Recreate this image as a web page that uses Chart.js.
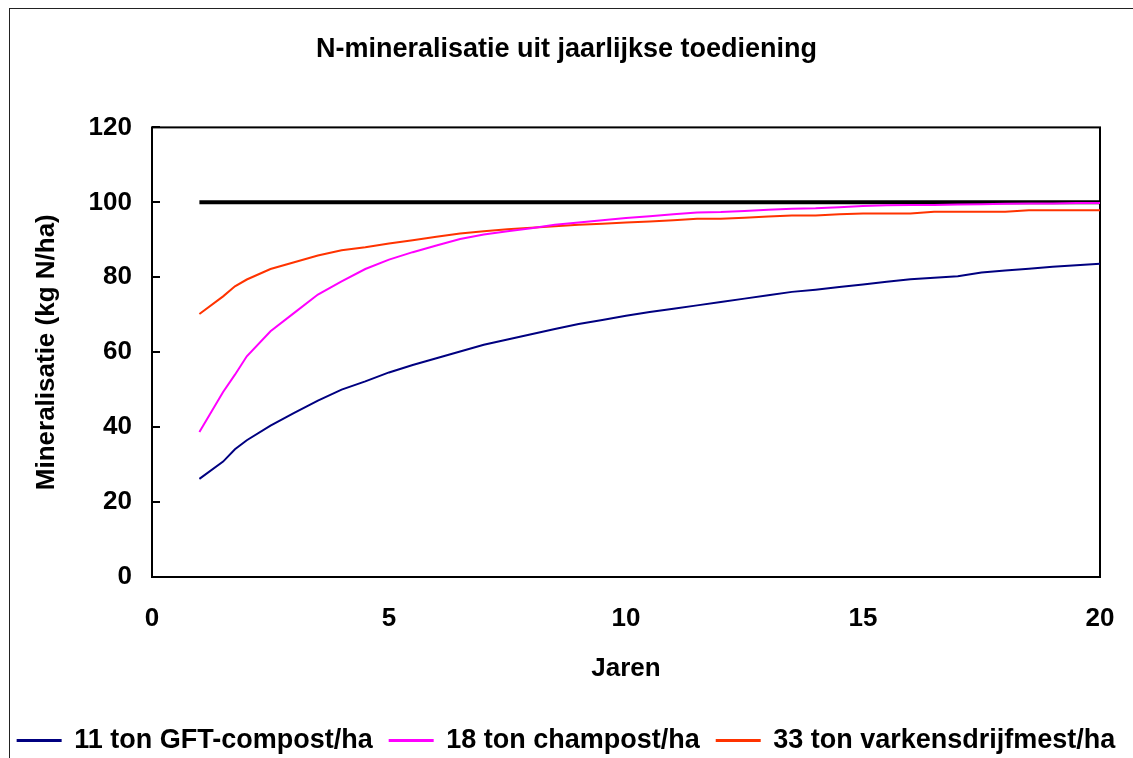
<!DOCTYPE html>
<html>
<head>
<meta charset="utf-8">
<script src="https://cdn.jsdelivr.net/npm/chart.js@4.4.1/dist/chart.umd.min.js"></script>
<style>
    html, body { margin: 0; padding: 0; background: #fff; overflow: hidden; }
    #wrap { width: 1133px; height: 758px; overflow: hidden; }
</style>
</head>
<body>
<div id="wrap"><canvas id="grafiek" width="1133" height="764"></canvas></div>
<script>
// jaren (x-as) en de drie reeksen
const jaren = [1, 1.5, 1.75, 2, 2.5, 3, 3.5, 4, 4.5, 5, 5.5, 6, 6.5, 7, 7.5, 8, 8.5, 9, 9.5, 10,
               10.5, 11, 11.5, 12, 12.5, 13, 13.5, 14, 14.5, 15, 15.5, 16, 16.5, 17, 17.5, 18, 18.5, 19, 19.5, 20];

const gftCompost = [26.2, 30.8, 34.1, 36.5, 40.4, 43.8, 47.1, 50.0, 52.2, 54.6, 56.6, 58.4, 60.2, 62.0, 63.4, 64.8, 66.2, 67.5, 68.6, 69.7,
                    70.7, 71.6, 72.5, 73.4, 74.3, 75.2, 76.1, 76.7, 77.4, 78.1, 78.8, 79.5, 79.9, 80.3, 81.3, 81.8, 82.3, 82.8, 83.2, 83.6];

const champost = [38.7, 49.4, 54.0, 58.9, 65.6, 70.5, 75.4, 78.9, 82.2, 84.7, 86.7, 88.5, 90.2, 91.4, 92.3, 93.1, 94.0, 94.6, 95.2, 95.8,
                  96.3, 96.8, 97.3, 97.4, 97.7, 98.0, 98.3, 98.4, 98.7, 99.0, 99.2, 99.3, 99.3, 99.4, 99.5, 99.6, 99.7, 99.7, 99.8, 99.8];

const varkensdrijfmest = [70.2, 74.9, 77.6, 79.4, 82.2, 84.0, 85.8, 87.2, 88.0, 89.0, 89.9, 90.8, 91.7, 92.3, 92.8, 93.2, 93.6, 94.0, 94.3, 94.6,
                          94.9, 95.2, 95.6, 95.6, 95.9, 96.2, 96.5, 96.5, 96.8, 97.0, 97.0, 97.0, 97.5, 97.5, 97.5, 97.5, 97.9, 97.9, 97.9, 97.9];

// referentielijn op 100
const grensJaren = [1, 20];
const grensWaarde = [100, 100];

// as-instellingen
const xTicks = [0, 5, 10, 15, 20];
const yTicks = [0, 20, 40, 60, 80, 100, 120];

const namen = ['11 ton GFT-compost/ha', '18 ton champost/ha', '33 ton varkensdrijfmest/ha'];

const FONT = '"Liberation Sans", Arial, Helvetica, sans-serif';

function punten(xs, ys) {
    return xs.map((x, i) => ({ x: x, y: ys[i] }));
}

// witte achtergrond, buitenkader en kader om het plotgebied
const kaders = {
    id: 'kaders',
    beforeDraw(chart) {
        const ctx = chart.ctx;
        ctx.save();
        ctx.fillStyle = '#fff';
        ctx.fillRect(0, 0, chart.width, chart.height);
        ctx.strokeStyle = '#222';
        ctx.lineWidth = 1;
        ctx.strokeRect(9.5, 8.5, chart.width + 20, chart.height + 20);
        ctx.restore();
    },
    beforeDatasetsDraw(chart) {
        const a = chart.chartArea;
        const ctx = chart.ctx;
        ctx.save();
        ctx.strokeStyle = '#000';
        ctx.lineWidth = 2;
        ctx.strokeRect(a.left, a.top, a.right - a.left, a.bottom - a.top);
        ctx.restore();
    }
};

new Chart(document.getElementById('grafiek'), {
    type: 'line',
    data: {
        datasets: [
            {
                label: namen[0],
                data: punten(jaren, gftCompost),
                borderColor: '#000080',
                backgroundColor: '#000080',
                borderWidth: 2
            },
            {
                label: namen[1],
                data: punten(jaren, champost),
                borderColor: '#ff00ff',
                backgroundColor: '#ff00ff',
                borderWidth: 2
            },
            {
                label: namen[2],
                data: punten(jaren, varkensdrijfmest),
                borderColor: '#ff3300',
                backgroundColor: '#ff3300',
                borderWidth: 2
            },
            {
                label: 'grens',
                data: punten(grensJaren, grensWaarde),
                borderColor: '#000',
                backgroundColor: '#000',
                borderWidth: 4
            }
        ]
    },
    options: {
        responsive: false,
        animation: false,
        devicePixelRatio: 1,
        elements: {
            point: { radius: 0, hoverRadius: 0 },
            line: { tension: 0 }
        },
        layout: { padding: 0 },
        scales: {
            x: {
                type: 'linear',
                min: 0,
                max: 20,
                afterBuildTicks: s => { s.ticks = xTicks.map(v => ({ value: v })); },
                afterFit: s => {
                    s.height = 133;
                    s.paddingLeft = 0;
                    s.paddingRight = 33;
                },
                grid: { display: false },
                border: { display: false },
                ticks: {
                    color: '#000',
                    padding: 18,
                    font: { family: FONT, size: 26, weight: 'bold' }
                },
                title: {
                    display: true,
                    text: 'Jaren',
                    color: '#000',
                    font: { family: FONT, size: 26, weight: 'bold' },
                    padding: { top: 10, bottom: 26 }
                }
            },
            y: {
                min: 0,
                max: 120,
                afterBuildTicks: s => { s.ticks = yTicks.map(v => ({ value: v })); },
                afterFit: s => { s.width = 152; },
                grid: {
                    drawOnChartArea: false,
                    drawTicks: true,
                    tickLength: -8,
                    color: '#000',
                    lineWidth: 2
                },
                border: { display: false },
                ticks: {
                    color: '#000',
                    padding: 28,
                    font: { family: FONT, size: 26, weight: 'bold' }
                },
                title: {
                    display: true,
                    text: 'Mineralisatie (kg N/ha)',
                    color: '#000',
                    font: { family: FONT, size: 26, weight: 'bold' },
                    padding: { top: 31, bottom: 0 }
                }
            }
        },
        plugins: {
            title: {
                display: true,
                text: 'N-mineralisatie uit jaarlijkse toediening',
                color: '#000',
                font: { family: FONT, size: 27, weight: 'bold' },
                padding: { top: 33, bottom: 62 }
            },
            legend: {
                position: 'bottom',
                labels: {
                    color: '#000',
                    boxWidth: 43,
                    boxHeight: 1,
                    padding: 17,
                    font: { family: FONT, size: 27, weight: 'bold' },
                    filter: item => item.datasetIndex < 3
                }
            },
            tooltip: { enabled: false }
        }
    },
    plugins: [kaders]
});
</script>
</body>
</html>
